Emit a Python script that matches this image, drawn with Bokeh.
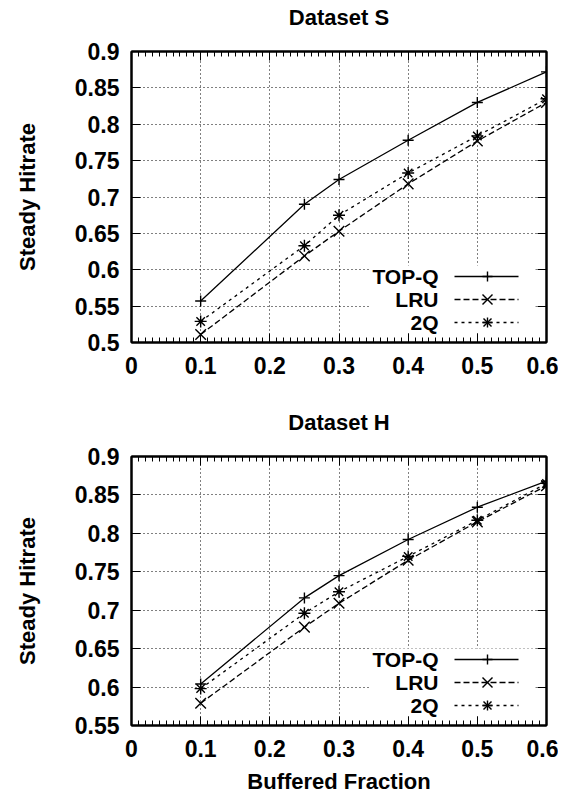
from bokeh.plotting import figure
from bokeh.models import (Range1d, FixedTicker, LinearAxis, BoxAnnotation,
                          CustomLabelingPolicy, Label, Arrow)
from bokeh.layouts import column
from bokeh.embed import file_html
from bokeh.resources import INLINE

# ---------------- data ----------------
fractions = [0.1, 0.25, 0.3, 0.4, 0.5, 0.6]

s_topq = [0.557, 0.690, 0.724, 0.778, 0.830, 0.872]
s_lru = [0.511, 0.619, 0.653, 0.718, 0.777, 0.830]
s_2q = [0.529, 0.633, 0.675, 0.733, 0.784, 0.835]

h_topq = [0.604, 0.716, 0.745, 0.792, 0.834, 0.868]
h_lru = [0.579, 0.678, 0.709, 0.765, 0.815, 0.862]
h_2q = [0.598, 0.696, 0.724, 0.770, 0.817, 0.865]

series_names = ["TOP-Q", "LRU", "2Q"]
x_ticks = [0.0, 0.1, 0.2, 0.3, 0.4, 0.5, 0.6]
x_tick_labels = ["0", "0.1", "0.2", "0.3", "0.4", "0.5", "0.6"]
x_minor = [round(i * 0.01, 2) for i in range(0, 61)]
s_y_ticks = [0.5, 0.55, 0.6, 0.65, 0.7, 0.75, 0.8, 0.85, 0.9]
s_y_labels = ["0.5", "0.55", "0.6", "0.65", "0.7", "0.75", "0.8", "0.85", "0.9"]
h_y_ticks = [0.55, 0.6, 0.65, 0.7, 0.75, 0.8, 0.85, 0.9]
h_y_labels = ["0.55", "0.6", "0.65", "0.7", "0.75", "0.8", "0.85", "0.9"]

FONT = "Liberation Sans"
FRAME_W = 415

styles = [
    dict(dash="solid", marker="cross", size=11),
    dict(dash="6 3", marker="x", size=15),
    dict(dash="3 4", marker="asterisk", size=12),
]

# marker strokes for the key samples (offsets in px from the marker centre)
marker_strokes = {
    "cross": [(-5, 0, 5, 0), (0, -5, 0, 5)],
    "x": [(-5, -5, 5, 5), (-5, 5, 5, -5)],
    "asterisk": [(-5, 0, 5, 0), (0, -5, 0, 5), (-4, -4, 4, 4), (-4, 4, 4, -4)],
}


def style_axis(ax, major_in=9, minor_in=5, labels=True):
    ax.major_tick_in = major_in
    ax.major_tick_out = 0
    ax.minor_tick_in = minor_in
    ax.minor_tick_out = 0
    ax.axis_line_width = 2
    ax.axis_line_color = "black"
    ax.major_tick_line_color = "black"
    ax.minor_tick_line_color = "black" if minor_in else None
    ax.major_label_text_font = FONT
    ax.major_label_text_font_style = "bold"
    ax.major_label_text_color = "black"
    if labels:
        ax.major_label_text_font_size = "23px"
    else:
        ax.major_label_text_font_size = "1px"
        ax.major_label_standoff = 0
        ax.major_label_policy = CustomLabelingPolicy(code="")
    ax.axis_label_text_font = FONT
    ax.axis_label_text_font_style = "bold"
    ax.axis_label_text_font_size = "22px"
    ax.axis_label_text_color = "black"


def make_plot(title, ys, y_lo, y_hi, y_ticks, y_labels, frame_h,
              border_top, border_bottom, xlabel):
    p = figure(frame_width=FRAME_W, frame_height=frame_h,
               x_range=Range1d(0, 0.6), y_range=Range1d(y_lo, y_hi),
               output_backend="svg", toolbar_location=None,
               min_border_left=131, min_border_right=12,
               min_border_top=border_top, min_border_bottom=border_bottom,
               title=title)
    p.title.align = "center"
    p.title.vertical_align = "top"
    p.title.standoff = 6
    p.title.text_font = FONT
    p.title.text_font_style = "bold"
    p.title.text_font_size = "22px"
    p.title.text_color = "black"
    p.outline_line_color = "black"
    p.outline_line_width = 2
    p.background_fill_color = "white"
    p.border_fill_color = "white"

    xt = FixedTicker(ticks=x_ticks, minor_ticks=x_minor)
    yt = FixedTicker(ticks=y_ticks, minor_ticks=[])

    xa = p.xaxis[0]
    xa.ticker = xt
    xa.major_label_overrides = {t: l for t, l in zip(x_ticks, x_tick_labels)}
    style_axis(xa)
    xa.major_label_standoff = 14
    if xlabel:
        xa.axis_label = xlabel
        xa.axis_label_standoff = 9

    ya = p.yaxis[0]
    ya.ticker = yt
    ya.major_label_overrides = {t: l for t, l in zip(y_ticks, y_labels)}
    style_axis(ya, minor_in=0)
    ya.major_label_standoff = 12
    ya.axis_label = "Steady Hitrate"
    ya.axis_label_standoff = 32

    top = LinearAxis(ticker=xt)
    style_axis(top, labels=False)
    top.major_label_standoff = 13
    p.add_layout(top, "above")
    right = LinearAxis(ticker=yt)
    style_axis(right, minor_in=0, labels=False)
    p.add_layout(right, "right")

    for g, t in ((p.xgrid[0], xt), (p.ygrid[0], yt)):
        g.ticker = t
        g.grid_line_color = "black"
        g.grid_line_dash = "1 3"
        g.grid_line_width = 1

    for yv, st in zip(ys, styles):
        p.line(fractions, yv, line_color="black", line_width=1.3,
               line_dash=st["dash"])
        p.scatter(fractions, yv, marker=st["marker"], size=st["size"],
                  line_color="black", line_width=1.4, fill_color=None)

    # gnuplot-style key: white area, text on the left, sample on the right
    p.add_layout(BoxAnnotation(left=239, right=404, bottom=10, top=77,
                               left_units="screen", right_units="screen",
                               bottom_units="screen", top_units="screen",
                               fill_color="white", fill_alpha=1.0,
                               line_color=None, level="annotation"))
    for name, st, yy in zip(series_names, styles, [66, 43, 20]):
        p.add_layout(Label(x=307, y=yy, x_units="screen", y_units="screen",
                           text=name, text_align="right",
                           text_baseline="middle", text_font=FONT,
                           text_font_style="bold", text_font_size="21px",
                           text_color="black"))
        p.add_layout(Arrow(start=None, end=None, x_start=323, y_start=yy,
                           x_end=387, y_end=yy, start_units="screen",
                           end_units="screen", line_color="black",
                           line_width=1.3, line_dash=st["dash"]))
        for dx0, dy0, dx1, dy1 in marker_strokes[st["marker"]]:
            p.add_layout(Arrow(start=None, end=None,
                               x_start=356 + dx0, y_start=yy + dy0,
                               x_end=356 + dx1, y_end=yy + dy1,
                               start_units="screen", end_units="screen",
                               line_color="black", line_width=1.4))
    return p


p1 = make_plot("Dataset S", [s_topq, s_lru, s_2q], 0.5, 0.9,
               s_y_ticks, s_y_labels, 291, 51, 40, None)
p2 = make_plot("Dataset H", [h_topq, h_lru, h_2q], 0.55, 0.9,
               h_y_ticks, h_y_labels, 269, 74, 68, "Buffered Fraction")

layout = column(p1, p2, spacing=0)
open("out.html", "w").write(file_html(layout, INLINE))
